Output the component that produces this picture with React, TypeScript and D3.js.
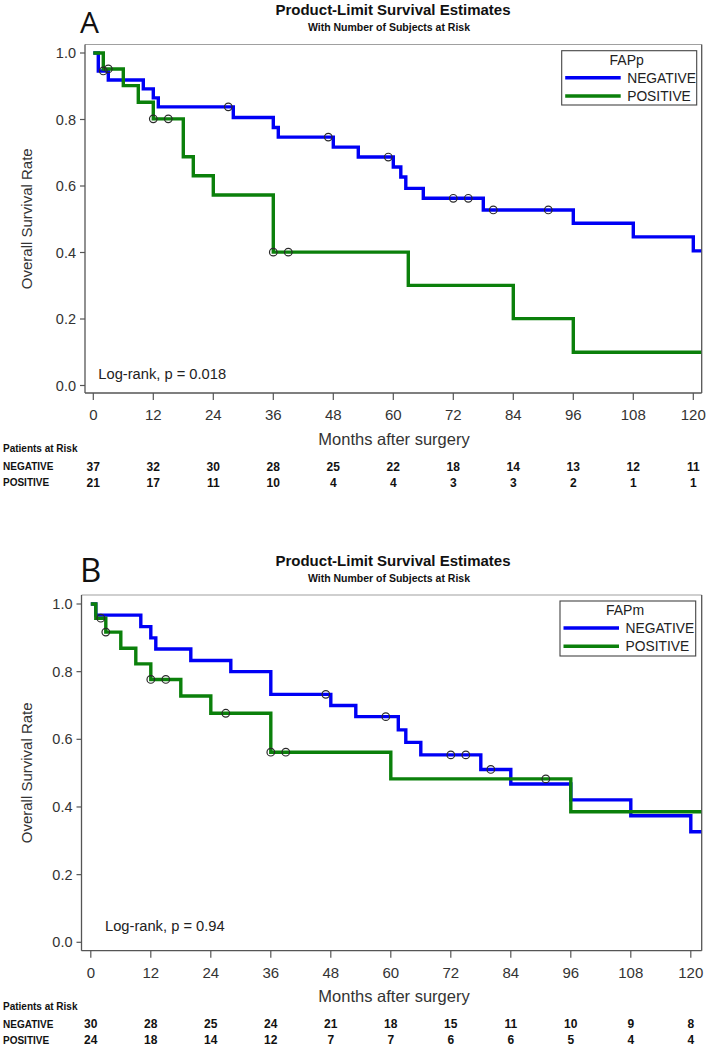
import React from "react";
import * as d3 from "d3";

// ---------- DATA ----------
const monthTicks = [0, 12, 24, 36, 48, 60, 72, 84, 96, 108, 120];
const survTicks = [0, 0.2, 0.4, 0.6, 0.8, 1.0];
const groups = ["NEGATIVE", "POSITIVE"];

// Panel A (FAPp)
const aNegTimes = [1, 3, 10, 12, 13, 28, 36, 37, 48, 53, 60, 61.5, 62.5, 66, 78, 96, 108, 120];
const aNegSurv = [0.946, 0.919, 0.892, 0.865, 0.838, 0.806, 0.776, 0.747, 0.717, 0.687, 0.657, 0.627, 0.593, 0.563, 0.528, 0.488, 0.447, 0.405];
const aNegCensT = [2, 27, 47, 59, 72, 75, 80, 91];
const aNegCensS = [0.946, 0.838, 0.747, 0.687, 0.563, 0.563, 0.528, 0.528];
const aPosTimes = [2, 6, 9, 12, 18, 20, 24, 36, 63, 84, 96];
const aPosSurv = [0.952, 0.902, 0.852, 0.802, 0.688, 0.631, 0.573, 0.401, 0.301, 0.201, 0.100];
const aPosCensT = [3, 12, 15, 36, 39];
const aPosCensS = [0.952, 0.802, 0.802, 0.401, 0.401];
const aRiskNeg = [37, 32, 30, 28, 25, 22, 18, 14, 13, 12, 11];
const aRiskPos = [21, 17, 11, 10, 4, 4, 3, 3, 2, 1, 1];

// Panel B (FAPm)
const bNegTimes = [1, 10, 12, 13, 20, 28, 36, 48, 53, 61.5, 63, 66, 78, 84, 96, 108, 120];
const bNegSurv = [0.967, 0.933, 0.900, 0.867, 0.833, 0.800, 0.733, 0.700, 0.667, 0.628, 0.591, 0.554, 0.511, 0.468, 0.421, 0.374, 0.327];
const bNegCensT = [47, 59, 72, 75, 80];
const bNegCensS = [0.733, 0.667, 0.554, 0.554, 0.511];
const bPosTimes = [1, 3, 6, 9, 12, 18, 24, 36, 60, 96];
const bPosSurv = [0.958, 0.917, 0.869, 0.823, 0.777, 0.728, 0.677, 0.562, 0.483, 0.386];
const bPosCensT = [2, 3, 12, 15, 27, 36, 39, 91];
const bPosCensS = [0.958, 0.917, 0.777, 0.777, 0.677, 0.562, 0.562, 0.483];
const bRiskNeg = [30, 28, 25, 24, 21, 18, 15, 11, 10, 9, 8];
const bRiskPos = [24, 18, 14, 12, 7, 7, 6, 6, 5, 4, 4];

const BLUE = "#0000F5";
const GREEN = "#0B800B";
const FONT = "'Liberation Sans', Arial, Helvetica, sans-serif";
const NARROW = "'Liberation Sans Narrow', 'Liberation Sans', Arial, sans-serif";

type Geo = {
  frameTop: number; frameLeft: number; frameRight: number; frameBottom: number;
  x0: number; yOne: number; yZero: number;
  titleY: number; subY: number; letterY: number; letterSize: number;
  legX: number; legY: number; legW: number; legH: number;
  lrX: number; lrY: number;
};

function Panel(props: {
  letter: string; legendTitle: string; pText: string; g: Geo;
  negT: number[]; negS: number[]; negCT: number[]; negCS: number[];
  posT: number[]; posS: number[]; posCT: number[]; posCS: number[];
  riskNeg: number[]; riskPos: number[];
}) {
  const { g } = props;
  const x = d3.scaleLinear().domain([0, 120]).range([g.x0, g.x0 + 600]);
  const y = d3.scaleLinear().domain([0, 1]).range([g.yZero, g.yOne]);
  const tEnd = x.invert(g.frameRight - 0.5);
  const line = d3
    .line<[number, number]>()
    .x((d) => x(d[0]))
    .y((d) => y(d[1]))
    .curve(d3.curveStepAfter);
  const mk = (T: number[], S: number[]): [number, number][] => {
    const pts: [number, number][] = [[0, 1]];
    T.forEach((t, i) => pts.push([t, S[i]]));
    pts.push([tEnd, S[S.length - 1]]);
    return pts;
  };
  const series = [
    { T: props.negT, S: props.negS, CT: props.negCT, CS: props.negCS, color: BLUE },
    { T: props.posT, S: props.posS, CT: props.posCT, CS: props.posCS, color: GREEN },
  ];
  const midY = (g.frameTop + g.frameBottom) / 2;
  return (
    <g>
      <text x={80} y={g.letterY} fontFamily="'Open Sans', 'DejaVu Sans', sans-serif" fontSize={g.letterSize} fill="#111">
        {props.letter}
      </text>
      <text x={393} y={g.titleY} textAnchor="middle" fontFamily={FONT} fontWeight="bold" fontSize={15} fill="#111">
        Product-Limit Survival Estimates
      </text>
      <text x={389} y={g.subY} textAnchor="middle" fontFamily={FONT} fontWeight="bold" fontSize={10.5} fill="#111">
        With Number of Subjects at Risk
      </text>
      {/* frame */}
      <line x1={g.frameLeft} x2={g.frameRight} y1={g.frameTop} y2={g.frameTop} stroke="#a0a0a0" strokeWidth={1.2} />
      <line x1={g.frameLeft} x2={g.frameLeft} y1={g.frameTop} y2={g.frameBottom} stroke="#555" strokeWidth={1.3} />
      <line x1={g.frameRight} x2={g.frameRight} y1={g.frameTop} y2={g.frameBottom} stroke="#555" strokeWidth={1.3} />
      <line x1={g.frameLeft} x2={g.frameRight} y1={g.frameBottom} y2={g.frameBottom} stroke="#555" strokeWidth={1.3} />
      {/* y ticks */}
      {survTicks.map((v) => (
        <g key={"y" + v}>
          <line x1={g.frameLeft - 5} x2={g.frameLeft} y1={y(v)} y2={y(v)} stroke="#555" strokeWidth={1.2} />
          <text x={g.frameLeft - 9} y={y(v) + 5} textAnchor="end" fontFamily={FONT} fontSize={14.5} fill="#333">
            {v.toFixed(1)}
          </text>
        </g>
      ))}
      <text
        transform={`translate(${32},${midY}) rotate(-90)`}
        textAnchor="middle"
        fontFamily={FONT}
        fontSize={15}
        fill="#333"
      >
        Overall Survival Rate
      </text>
      {/* x ticks */}
      {monthTicks.map((m) => (
        <g key={"x" + m}>
          <line x1={x(m)} x2={x(m)} y1={g.frameBottom} y2={g.frameBottom + 7} stroke="#555" strokeWidth={1.2} />
          <text x={x(m)} y={g.frameBottom + 27} textAnchor="middle" fontFamily={NARROW} fontSize={15} fill="#333">
            {m}
          </text>
        </g>
      ))}
      <text x={394} y={g.frameBottom + 51.5} textAnchor="middle" fontFamily={NARROW} fontSize={16.5} fill="#333">
        Months after surgery
      </text>
      {/* curves */}
      {series.map((s, i) => (
        <path key={"c" + i} d={line(mk(s.T, s.S)) || ""} fill="none" stroke={s.color} strokeWidth={3.4} />
      ))}
      {series.map((s, i) =>
        s.CT.map((t, j) => (
          <circle key={"m" + i + "_" + j} cx={x(t)} cy={y(s.CS[j])} r={3.8} fill="none" stroke="#2a2a2a" strokeWidth={1.2} />
        ))
      )}
      {/* log-rank */}
      <text x={g.lrX} y={g.lrY} fontFamily={FONT} fontSize={14.7} fill="#222">
        {props.pText}
      </text>
      {/* legend */}
      <rect x={g.legX} y={g.legY} width={g.legW} height={g.legH} fill="#fff" stroke="#444" strokeWidth={1.1} />
      <text x={g.legX + 65} y={g.legY + 14} textAnchor="middle" fontFamily={FONT} fontSize={14} fill="#222">
        {props.legendTitle}
      </text>
      {groups.map((nm, i) => (
        <g key={"l" + i}>
          <line
            x1={g.legX + 3.5}
            x2={g.legX + 59}
            y1={g.legY + 27 + i * 18.3}
            y2={g.legY + 27 + i * 18.3}
            stroke={i === 0 ? BLUE : GREEN}
            strokeWidth={3.4}
          />
          <text x={g.legX + 65.5} y={g.legY + 31.8 + i * 18.3} fontFamily={FONT} fontSize={13.8} fill="#222">
            {nm}
          </text>
        </g>
      ))}
      {/* risk table */}
      <text x={3} y={g.frameBottom + 59} fontFamily={NARROW} fontWeight="bold" fontSize={10} fill="#111">
        Patients at Risk
      </text>
      {groups.map((nm, i) => (
        <g key={"r" + i}>
          <text x={3} y={g.frameBottom + 77 + i * 16} fontFamily={NARROW} fontWeight="bold" fontSize={10} fill="#111">
            {nm}
          </text>
          {(i === 0 ? props.riskNeg : props.riskPos).map((n, k) => (
            <text
              key={k}
              x={x(monthTicks[k])}
              y={g.frameBottom + 77.5 + i * 16}
              textAnchor="middle"
              fontFamily={NARROW}
              fontWeight="bold"
              fontSize={12}
              fill="#111"
            >
              {n}
            </text>
          ))}
        </g>
      ))}
    </g>
  );
}

const geoA: Geo = {
  frameTop: 44.5, frameLeft: 85, frameRight: 701.7, frameBottom: 393,
  x0: 93.3, yOne: 53, yZero: 385.5,
  titleY: 15, subY: 30.5, letterY: 33, letterSize: 30,
  legX: 561.7, legY: 50.7, legW: 135, legH: 54.3,
  lrX: 98.3, lrY: 379,
};
const geoB: Geo = {
  frameTop: 595, frameLeft: 81.5, frameRight: 701.7, frameBottom: 950.7,
  x0: 90.8, yOne: 604, yZero: 942.3,
  titleY: 565.5, subY: 581.5, letterY: 582, letterSize: 33,
  legX: 560, legY: 601, legW: 135.7, legH: 55,
  lrX: 105, lrY: 931,
};

export default function App() {
  return (
    <svg
      width={707}
      height={1048}
      style={{ position: "absolute", left: 0, top: 0, background: "#fff", display: "block" }}
    >
      <rect x={0} y={0} width={707} height={1048} fill="#fff" />
      <Panel
        letter="A" legendTitle="FAPp" pText="Log-rank, p = 0.018" g={geoA}
        negT={aNegTimes} negS={aNegSurv} negCT={aNegCensT} negCS={aNegCensS}
        posT={aPosTimes} posS={aPosSurv} posCT={aPosCensT} posCS={aPosCensS}
        riskNeg={aRiskNeg} riskPos={aRiskPos}
      />
      <Panel
        letter="B" legendTitle="FAPm" pText="Log-rank, p = 0.94" g={geoB}
        negT={bNegTimes} negS={bNegSurv} negCT={bNegCensT} negCS={bNegCensS}
        posT={bPosTimes} posS={bPosSurv} posCT={bPosCensT} posCS={bPosCensS}
        riskNeg={bRiskNeg} riskPos={bRiskPos}
      />
    </svg>
  );
}
